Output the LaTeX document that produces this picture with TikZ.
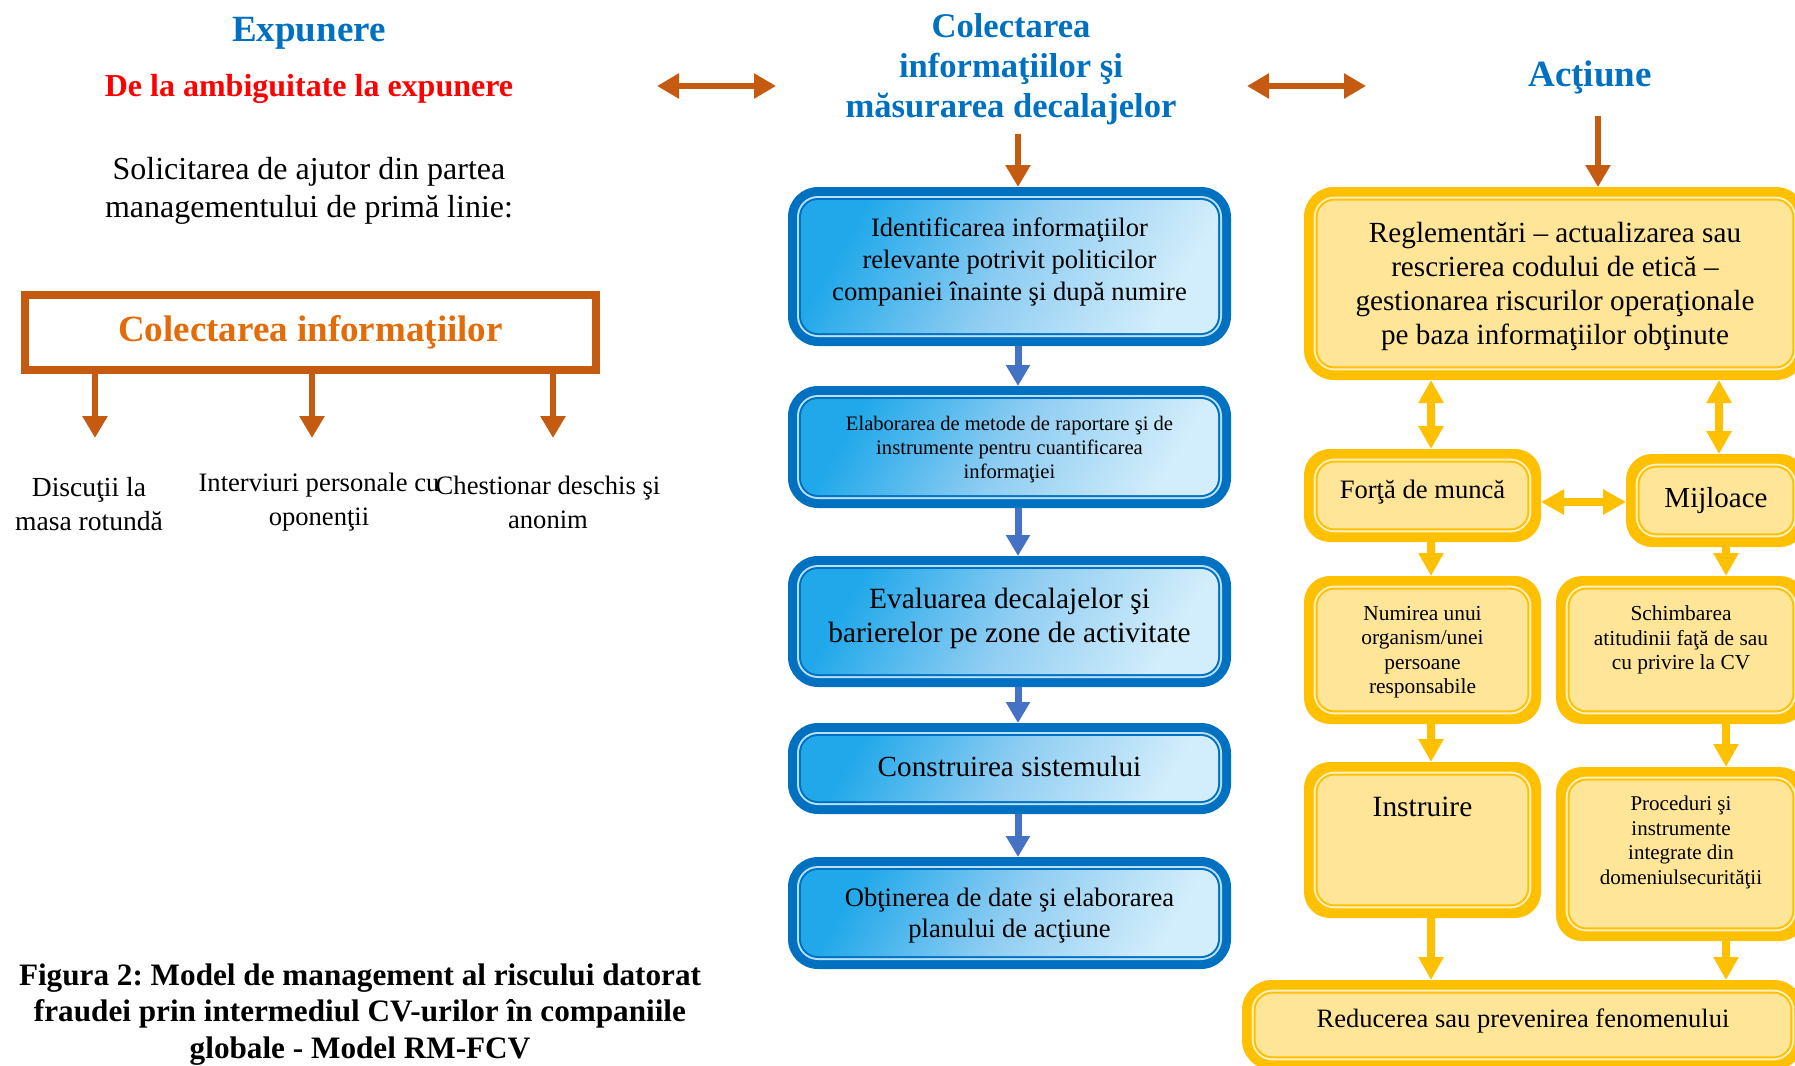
\documentclass[tikz,border=0pt]{standalone}
\usepackage{fontspec}
\setmainfont{Liberation Serif}
\usetikzlibrary{arrows.meta,calc}
\definecolor{orangeD}{HTML}{C55A11}
\definecolor{orangeT}{HTML}{E36C09}
\definecolor{blueT}{HTML}{0070C0}
\definecolor{redT}{HTML}{FF0000}
\definecolor{bDark}{HTML}{0070C0}
\definecolor{bLight}{HTML}{B8E0F8}
\definecolor{bA}{HTML}{20A8EA}
\definecolor{bB}{HTML}{8FCDF2}
\definecolor{bD}{HTML}{D2EDFB}
\definecolor{bArr}{HTML}{4472C4}
\definecolor{yGold}{HTML}{FFC000}
\definecolor{yLight}{HTML}{FFF0C4}
\definecolor{yFill}{HTML}{FFE597}
\newcommand\fsz[2]{\fontsize{#1pt}{#2pt}\selectfont}
\frenchspacing
\begin{document}
\begin{tikzpicture}[x=0.5pt,y=-0.5pt,
  >={Triangle[length=11pt,width=12pt]},
  bluebox/.style={rectangle, rounded corners=15pt, fill=bDark, outer sep=0pt, inner sep=2pt, align=center,
    path picture={
      \fill[bLight, rounded corners=10.5pt] ([shift={(4.5pt,4.5pt)}]path picture bounding box.south west) rectangle ([shift={(-4.5pt,-4.5pt)}]path picture bounding box.north east);
      \fill[bDark, rounded corners=9.5pt] ([shift={(5.5pt,5.5pt)}]path picture bounding box.south west) rectangle ([shift={(-5.5pt,-5.5pt)}]path picture bounding box.north east);
      \shade[rounded corners=8.5pt, left color=bA, right color=bD, middle color=bB, shading angle=60] ([shift={(6.5pt,6.5pt)}]path picture bounding box.south west) rectangle ([shift={(-6.5pt,-6.5pt)}]path picture bounding box.north east);
    }},
  yelbox/.style={rectangle, rounded corners=15pt, fill=yGold, outer sep=0pt, inner sep=2pt, align=center,
    path picture={
      \fill[yLight, rounded corners=10.5pt] ([shift={(4.8pt,4.8pt)}]path picture bounding box.south west) rectangle ([shift={(-4.8pt,-4.8pt)}]path picture bounding box.north east);
      \fill[yGold, rounded corners=9.5pt] ([shift={(5.8pt,5.8pt)}]path picture bounding box.south west) rectangle ([shift={(-5.8pt,-5.8pt)}]path picture bounding box.north east);
      \fill[yFill, rounded corners=8.5pt] ([shift={(6.8pt,6.8pt)}]path picture bounding box.south west) rectangle ([shift={(-6.8pt,-6.8pt)}]path picture bounding box.north east);
    }},
  oarr/.style={draw=orangeD, line width=3pt},
  barr/.style={draw=bArr, line width=3.5pt, >={Triangle[length=10.5pt,width=11.5pt]}},
  yarr/.style={draw=yGold, line width=4pt, >={Triangle[length=11.5pt,width=12pt]}},
  head/.style={font=\bfseries\fsz{18.5}{22}, text=blueT, align=center, inner sep=0pt},
  lbl/.style={font=\fsz{13.3}{17}, align=center, inner sep=0pt}
]
\useasboundingbox (0,0) rectangle (1795,1066);
\clip (0,0) rectangle (1795,1066);

% ---------- left column ----------
\node[head] (expunere) at (309,33) {Expunere};
\node[font=\bfseries\fsz{16}{19}, text=redT, inner sep=0pt] (ambig) at (309,88.5) {De la ambiguitate la expunere};
\node[font=\fsz{16}{19}, align=center, inner sep=0pt] (solic) at (309,191) {Solicitarea de ajutor din partea\\managementului de primă linie:};
\node[draw=orangeD, line width=4pt, minimum width=285.5pt, minimum height=37.5pt, inner sep=0pt,
      font=\bfseries\fsz{18.5}{22}, text=orangeT] (colbox) at (310.5,332.5) {Colectarea informaţiilor};
\coordinate (t1) at (95,438);
\coordinate (t2) at (312,438);
\coordinate (t3) at (553,438);
\draw[oarr,->] (colbox.south -| t1) -- (t1);
\draw[oarr,->] (colbox.south -| t2) -- (t2);
\draw[oarr,->] (colbox.south -| t3) -- (t3);
\node[lbl, font=\fsz{13.8}{17}] (l1) at (89,504) {Discuţii la\\masa rotundă};
\node[lbl] (l2) at (319,502.5) {Interviuri personale cu\\oponenţii};
\node[lbl] (l3) at (548,502.5) {Chestionar deschis şi\\anonim};
\node[font=\bfseries\fsz{15.6}{18.3}, align=center, inner sep=0pt] (caption) at (360,1014.5)
  {Figura 2: Model de management al riscului datorat\\fraudei prin intermediul CV-urilor în companiile\\globale - Model RM-FCV};

% ---------- middle column ----------
\node[head, font=\bfseries\fsz{17.3}{20}] (midtitle) at (1011,69.5) {Colectarea\\informaţiilor şi\\măsurarea decalajelor};
\coordinate (da1) at (657,86);
\coordinate (da2) at (776,86);
\coordinate (da3) at (1247,86);
\coordinate (da4) at (1366,86);
\draw[oarr,<->] (da1) -- (da2);
\draw[oarr,<->] (da3) -- (da4);

\node[bluebox, minimum width=221.5pt, minimum height=79.5pt, font=\fsz{13.3}{16}, text depth=7.4pt] (B1) at (1009.5,266.5)
  {Identificarea informaţiilor\\relevante potrivit politicilor\\companiei înainte şi după numire};
\node[bluebox, minimum width=221.5pt, minimum height=61pt, font=\fsz{10.3}{12}, text depth=0pt] (B2) at (1009.5,447)
  {Elaborarea de metode de raportare şi de\\instrumente pentru cuantificarea\\informaţiei};
\node[bluebox, minimum width=221.5pt, minimum height=65.5pt, font=\fsz{14.7}{17}, text depth=6.5pt] (B3) at (1009.5,621.5)
  {Evaluarea decalajelor şi\\barierelor pe zone de activitate};
\node[bluebox, minimum width=221.5pt, minimum height=45.5pt, font=\fsz{14.6}{17}, text depth=2.3pt] (B4) at (1009.5,768.5)
  {Construirea sistemului};
\node[bluebox, minimum width=221.5pt, minimum height=56pt, font=\fsz{13.3}{15.5}, text depth=0pt] (B5) at (1009.5,913)
  {Obţinerea de date şi elaborarea\\planului de acţiune};
\coordinate (xm) at (1018,134);
\draw[oarr,->] (xm) -- (xm |- B1.north);
\draw[barr,->] (xm |- B1.south) -- (xm |- B2.north);
\draw[barr,->] (xm |- B2.south) -- (xm |- B3.north);
\draw[barr,->] (xm |- B3.south) -- (xm |- B4.north);
\draw[barr,->] (xm |- B4.south) -- (xm |- B5.north);

% ---------- right column ----------
\node[head] (actiune) at (1590,77.5) {Acţiune};
\node[yelbox, minimum width=251pt, minimum height=96.5pt, font=\fsz{14.6}{17}, text depth=0pt] (R1) at (1555,283.5)
  {Reglementări – actualizarea sau\\rescrierea codului de etică –\\gestionarea riscurilor operaţionale\\pe baza informaţiilor obţinute};
\node[yelbox, rounded corners=13pt, minimum width=118.5pt, minimum height=46.5pt, font=\fsz{13.3}{16}, text depth=6.5pt] (F) at (1422.5,495.5)
  {Forţă de muncă};
\node[yelbox, rounded corners=13pt, minimum width=90pt, minimum height=46.5pt, font=\fsz{14.5}{17}] (M) at (1716,500.5)
  {Mijloace};
\node[yelbox, rounded corners=13pt, minimum width=118.5pt, minimum height=74pt, font=\fsz{10.7}{12.3}, text depth=0pt] (N) at (1422.5,650)
  {Numirea unui\\organism/unei\\persoane\\responsabile};
\node[yelbox, rounded corners=13pt, minimum width=125pt, minimum height=74pt, font=\fsz{10.7}{12.3}] (S) at (1681,650)
  {Schimbarea\\atitudinii faţă de sau\\cu privire la CV\\\mbox{}};
\node[yelbox, rounded corners=13pt, minimum width=118.5pt, minimum height=78pt, font=\fsz{14.7}{17}, text depth=33.4pt] (I) at (1422.5,840)
  {Instruire};
\node[yelbox, rounded corners=13pt, minimum width=125pt, minimum height=87pt, font=\fsz{10.5}{12.3}, text depth=13.6pt] (P) at (1681,854)
  {Proceduri şi\\instrumente\\integrate din\\domeniulsecurităţii};
\node[yelbox, minimum width=281pt, minimum height=45pt, font=\fsz{13.25}{16}, text depth=7pt] (Red) at (1523,1025)
  {Reducerea sau prevenirea fenomenului};

\coordinate (xa) at (1598,116);
\draw[oarr,->] (xa) -- (xa |- R1.north);
\coordinate (xl) at (1431,0);
\coordinate (xr) at (1719,0);
\coordinate (xs) at (1726,0);
\coordinate (yh) at (0,502);
\draw[yarr,<->] (xl |- R1.south) -- (xl |- F.north);
\draw[yarr,<->] (xr |- R1.south) -- (xr |- M.north);
\draw[yarr,<->] (F.east |- yh) -- (M.west |- yh);
\draw[yarr,->] (xl |- F.south) -- (xl |- N.north);
\draw[yarr,->] (xs |- M.south) -- (xs |- S.north);
\draw[yarr,->] (xl |- N.south) -- (xl |- I.north);
\draw[yarr,->] (xs |- S.south) -- (xs |- P.north);
\draw[yarr,->] (xl |- I.south) -- (xl |- Red.north);
\draw[yarr,->] (xs |- P.south) -- (xs |- Red.north);
\end{tikzpicture}
\end{document}
